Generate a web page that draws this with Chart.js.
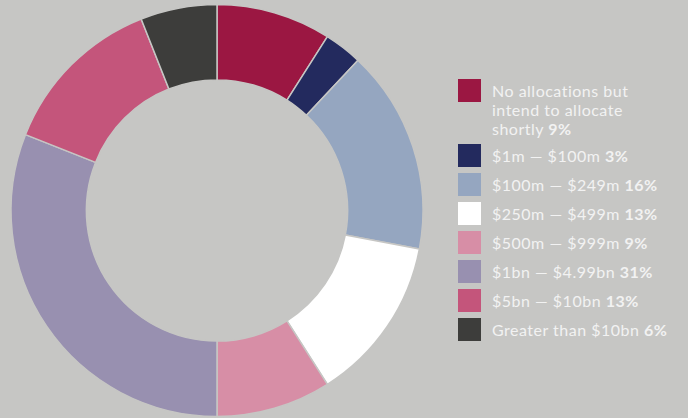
<!DOCTYPE html>
<html><head><meta charset="utf-8">
<script src="https://cdn.jsdelivr.net/npm/chart.js@4/dist/chart.umd.min.js"></script>
<style>
html,body{margin:0;padding:0;background:#c6c6c4;width:688px;height:418px;overflow:hidden;font-family:"Lato","Open Sans",sans-serif;}
#wrap{position:absolute;left:0;top:0;width:434px;height:421px;}
#legend{position:absolute;left:458px;top:79px;color:#f2f2f2;font-size:16px;letter-spacing:0.5px;}
.row{display:flex;align-items:flex-start;margin-bottom:6px;}
.sw{width:23px;height:23px;flex:none;margin-right:11px;}
.tx{line-height:19px;padding-top:2px;width:200px;}
.tx b{font-weight:700;}
</style></head>
<body>
<div id="wrap"><canvas id="c" width="434" height="421"></canvas></div>
<div id="legend"></div>
<script>
const categories = ["No allocations but intend to allocate shortly", "$1m \u2014 $100m", "$100m \u2014 $249m", "$250m \u2014 $499m", "$500m \u2014 $999m", "$1bn \u2014 $4.99bn", "$5bn \u2014 $10bn", "Greater than $10bn"];
const legendLines = [["No allocations but", "intend to allocate", "shortly"], ["$1m \u2014 $100m"], ["$100m \u2014 $249m"], ["$250m \u2014 $499m"], ["$500m \u2014 $999m"], ["$1bn \u2014 $4.99bn"], ["$5bn \u2014 $10bn"], ["Greater than $10bn"]];
const values = [9, 3, 16, 13, 9, 31, 13, 6];
const colors = ["#9b1742", "#232a5e", "#95a6c0", "#ffffff", "#d78ea6", "#9890b0", "#c4557b", "#3d3d3b"];

new Chart(document.getElementById('c'), {
  type: 'doughnut',
  data: { labels: categories, datasets: [{ data: values, backgroundColor: colors, borderColor: '#c6c6c4', borderWidth: 1.5 }] },
  options: {
    responsive: false, animation: false,
    radius: 206, cutout: 133,
    rotation: 0,
    plugins: { legend: { display: false }, tooltip: { enabled: false } }
  }
});

const lg = document.getElementById('legend');
categories.forEach((c, i) => {
  const row = document.createElement('div'); row.className = 'row';
  const sw = document.createElement('div'); sw.className = 'sw'; sw.style.background = colors[i];
  const tx = document.createElement('div'); tx.className = 'tx';
  const lines = legendLines[i];
  tx.innerHTML = lines.map((l, j) => j === lines.length - 1 ? l + ' <b>' + values[i] + '%</b>' : l).join('<br>');
  row.appendChild(sw); row.appendChild(tx); lg.appendChild(row);
});
</script>
</body></html>
